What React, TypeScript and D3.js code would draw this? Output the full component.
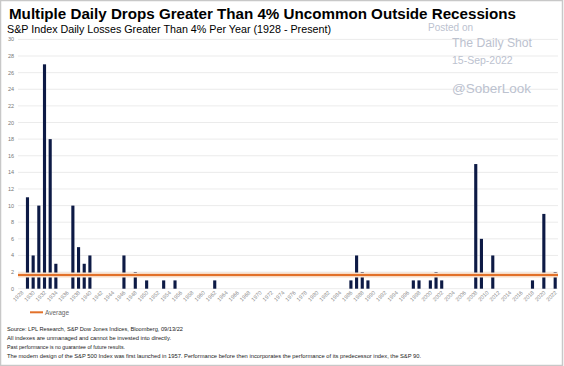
import React from 'react'
import { scaleBand, scaleLinear, range, mean } from 'd3'

// S&P daily losses > 4% per year, 1928 - 2022
const years = range(1928, 2023)
const drops = [
  0, 11, 4, 10, 27, 18, 3, 0, 0, 10, // 1928-1937
  5, 3, 4, 0, 0, 0, 0, 0, 4, 0,       // 1938-1947
  2, 0, 1, 0, 0, 1, 0, 1, 0, 0,       // 1948-1957
  0, 0, 0, 0, 1, 0, 0, 0, 0, 0,       // 1958-1967
  0, 0, 0, 0, 0, 0, 0, 0, 0, 0,       // 1968-1977
  0, 0, 0, 0, 0, 0, 0, 0, 1, 4,       // 1978-1987
  2, 1, 0, 0, 0, 0, 0, 0, 0, 1,       // 1988-1997
  1, 0, 1, 2, 1, 0, 0, 0, 0, 0,       // 1998-2007
  15, 6, 0, 4, 0, 0, 0, 0, 0, 0,      // 2008-2017
  1, 0, 9, 0, 2,                      // 2018-2022
]
const yTicks = range(0, 31, 2)
const xTickYears = years.filter(y => (y - 1928) % 2 === 0)

const footnotes = [
  'Source: LPL Research, S&P Dow Jones Indices, Bloomberg, 09/13/22',
  'All indexes are unmanaged and cannot be invested into directly.',
  'Past performance is no guarantee of future results.',
  'The modern design of the S&P 500 Index was first launched in 1957. Performance before then incorporates the performance of its predecessor index, the S&P 90.',
]
const footWidths = [176, 164, 118, 414]

const W = 564
const H = 366
const font = 'Liberation Sans, Arial, sans-serif'

export default function App() {
  const x = scaleBand<number>().domain(years).range([19, 558]).paddingInner(0.45).paddingOuter(0.22)
  const y = scaleLinear().domain([0, 30]).range([288.7, 39.4])
  const avg = mean(drops) as number

  return (
    <svg width={W} height={H} style={{ position: 'absolute', left: 0, top: 0, fontFamily: font }}>
      <rect x={0} y={0} width={W} height={H} fill="#fff" />
      <rect x={0.5} y={0.5} width={W - 2} height={H - 1} fill="none" stroke="#c8c8c8" strokeWidth={1.5} />

      <text x={9} y={19} fontSize={14} fontWeight="bold" fill="#000" textLength={507} lengthAdjust="spacingAndGlyphs">
        Multiple Daily Drops Greater Than 4% Uncommon Outside Recessions
      </text>
      <text x={7} y={32.5} fontSize={11} fill="#000" textLength={324} lengthAdjust="spacingAndGlyphs">
        S&amp;P Index Daily Losses Greater Than 4% Per Year (1928 - Present)
      </text>

      {yTicks.map(t => (
        <g key={t}>
          <line x1={18} x2={558} y1={y(t)} y2={y(t)} stroke="#e6e6e6" strokeWidth={0.8} />
          <text x={14} y={y(t) + 2} fontSize={5.5} fill="#777" textAnchor="end">{t}</text>
        </g>
      ))}

      {/* watermark */}
      <g fill="#bcc2cf">
        <text x={428} y={31} fontSize={10}>Posted on</text>
        <text x={452} y={47} fontSize={13} textLength={80} lengthAdjust="spacingAndGlyphs">The Daily Shot</text>
        <text x={452} y={63.5} fontSize={10.5}>15-Sep-2022</text>
        <text x={452} y={93} fontSize={13.5}>@SoberLook</text>
      </g>

      {years.map((yr, i) => drops[i] > 0 && (
        <rect key={yr} x={x(yr)} width={x.bandwidth()} y={y(drops[i])} height={y(0) - y(drops[i])} fill="#0d1a45" />
      ))}

      <line x1={18} x2={558} y1={y(avg)} y2={y(avg)} stroke="#f8dcc6" strokeWidth={5} />
      <line x1={18} x2={558} y1={y(avg)} y2={y(avg)} stroke="#e2712a" strokeWidth={2} />

      {xTickYears.map(yr => {
        const cx = (x(yr) as number) + x.bandwidth() / 2 + 2
        return (
          <text key={yr} x={cx} y={293} fontSize={5.5} fill="#888" textAnchor="end" transform={`rotate(-45 ${cx} 293)`}>{yr}</text>
        )
      })}

      <line x1={30} x2={43} y1={312.3} y2={312.3} stroke="#e2712a" strokeWidth={2} />
      <text x={45} y={314.5} fontSize={6.5} fill="#666">Average</text>

      {footnotes.map((f, i) => (
        <text key={i} x={7} y={331 + i * 9} fontSize={6} fill="#222" textLength={footWidths[i]} lengthAdjust="spacingAndGlyphs">{f}</text>
      ))}
    </svg>
  )
}
